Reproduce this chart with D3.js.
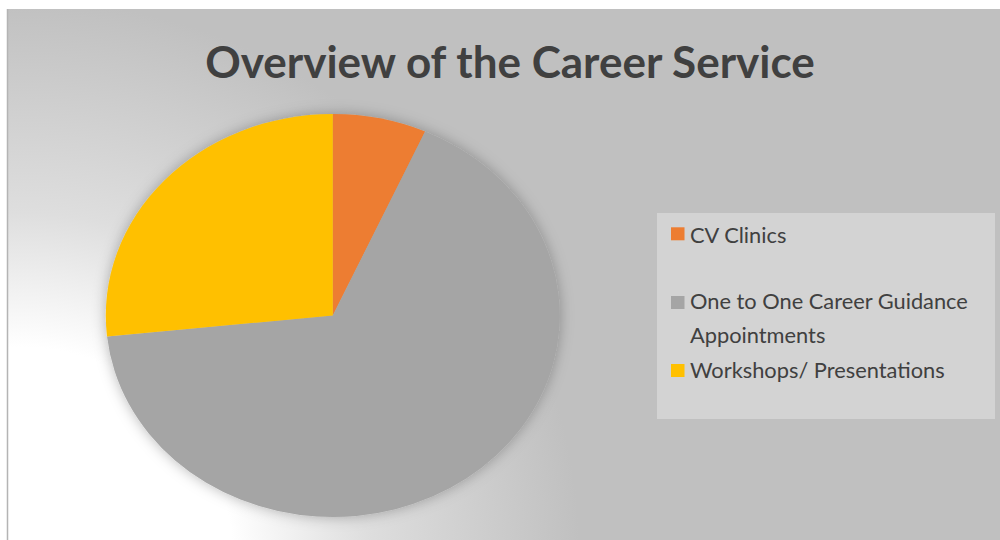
<!DOCTYPE html>
<html>
<head>
<meta charset="utf-8">
<script src="https://cdn.jsdelivr.net/npm/d3@7"></script>
<style>
  html, body { margin: 0; padding: 0; background: #ffffff; }
  svg { display: block; }
</style>
</head>
<body>
<svg id="chart" width="1000" height="540"></svg>
<script>
// Chart data
const categories = ["CV Clinics", "One to One Career Guidance Appointments", "Workshops/ Presentations"];
const values = [50, 500, 200];
const colors = ["#ED7D31", "#A5A5A5", "#FFC000"];
const legendLines = [["CV Clinics"], ["One to One Career Guidance", "Appointments"], ["Workshops/ Presentations"]];
const titleText = "Overview of the Career Service";

const svg = d3.select("#chart");
const defs = svg.append("defs");

// Background: flat grey lightening towards the lower-left corner
const bg = defs.append("radialGradient")
  .attr("id", "bgGlow")
  .attr("gradientUnits", "userSpaceOnUse")
  .attr("cx", 20).attr("cy", 560).attr("r", 560);
bg.append("stop").attr("offset", 0).attr("stop-color", "#ffffff");
bg.append("stop").attr("offset", 0.38).attr("stop-color", "#ffffff");
bg.append("stop").attr("offset", 0.62).attr("stop-color", "#dedede");
bg.append("stop").attr("offset", 1).attr("stop-color", "#c0c0c0");

// Soft shadow behind the pie
const shadow = defs.append("filter").attr("id", "pieShadow")
  .attr("x", "-20%").attr("y", "-20%").attr("width", "140%").attr("height", "140%");
shadow.append("feDropShadow")
  .attr("dx", 0).attr("dy", 0).attr("stdDeviation", 7)
  .attr("flood-color", "#000000").attr("flood-opacity", 0.28);

// Chart area
svg.append("rect").attr("x", 8).attr("y", 9).attr("width", 992).attr("height", 531)
  .attr("fill", "#c0c0c0");
svg.append("rect").attr("x", 8).attr("y", 9).attr("width", 992).attr("height", 531)
  .attr("fill", "url(#bgGlow)");
svg.append("line").attr("x1", 7.5).attr("x2", 7.5).attr("y1", 9).attr("y2", 540)
  .attr("stroke", "#b4b4b4").attr("stroke-width", 1.5);

// Title, fitted to its width
const title = svg.append("text")
  .attr("x", 510).attr("y", 77.5)
  .attr("text-anchor", "middle")
  .attr("font-family", "Lato, 'Open Sans', sans-serif")
  .attr("font-weight", 700)
  .attr("font-size", 44)
  .attr("fill", "#404040")
  .text(titleText);
{
  const w = title.node().getComputedTextLength();
  title.attr("font-size", 44 * 610 / w);
}

// Pie (drawn as a circle of radius ry, then stretched horizontally)
const cx = 332.8, cy = 315.5, rx = 227, ry = 201.5;
const pie = d3.pie().sort(null).value(d => d)(values);
const arc = d3.arc().innerRadius(0).outerRadius(ry);

const pieG = svg.append("g").attr("filter", "url(#pieShadow)")
  .append("g")
  .attr("transform", `translate(${cx},${cy}) scale(${rx / ry},1)`);
pieG.selectAll("path")
  .data(pie)
  .join("path")
  .attr("d", arc)
  .attr("fill", (d, i) => colors[i]);

// Legend
const legend = svg.append("g");
legend.append("rect")
  .attr("x", 657).attr("y", 213).attr("width", 338).attr("height", 206)
  .attr("fill", "#d3d3d3");

const legendFont = "Lato, 'Open Sans', sans-serif";
const squareTops = [227.3, 296, 364];
const baselines = [[243.3], [309.3, 343.3], [378.3]];

// Determine font size so the longest line spans its measured width
const probe = legend.append("text")
  .attr("font-family", legendFont).attr("font-size", 20)
  .text("One to One Career Guidance");
const legendSize = 20 * 278 / probe.node().getComputedTextLength();
probe.remove();

categories.forEach((c, i) => {
  legend.append("rect")
    .attr("x", 671).attr("y", squareTops[i])
    .attr("width", 13.5).attr("height", 13)
    .attr("fill", colors[i]);
  const t = legend.append("text")
    .attr("font-family", legendFont)
    .attr("font-size", legendSize)
    .attr("fill", "#404040");
  legendLines[i].forEach((line, j) => {
    t.append("tspan").attr("x", 690).attr("y", baselines[i][j]).text(line);
  });
});
</script>
</body>
</html>
